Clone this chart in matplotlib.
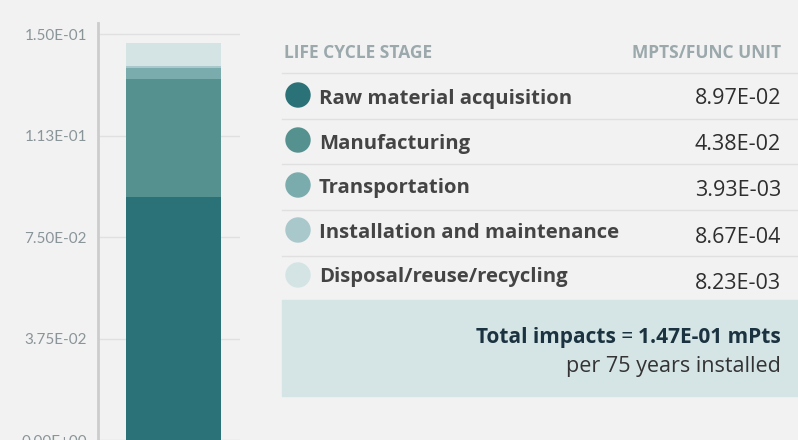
import matplotlib.pyplot as plt
from matplotlib.patches import Circle, Rectangle

# Data
stages = ['Raw material acquisition', 'Manufacturing', 'Transportation',
          'Installation and maintenance', 'Disposal/reuse/recycling']
values = [8.97e-02, 4.38e-02, 3.93e-03, 8.67e-04, 8.23e-03]
value_labels = ['8.97E-02', '4.38E-02', '3.93E-03', '8.67E-04', '8.23E-03']
colors = ['#2a7278', '#54918f', '#7bacad', '#a8c8cb', '#d4e4e5']
yticks = [0, 0.0375, 0.075, 0.1125, 0.15]
ytick_labels = ['0.00E+00', '3.75E-02', '7.50E-02', '1.13E-01', '1.50E-01']
total_label = '1.47E-01 mPts'

bg = '#f2f2f2'
W, H = 798, 440
fig = plt.figure(figsize=(W / 100, H / 100), dpi=100, facecolor=bg)
plt.rcParams['font.family'] = ['Open Sans', 'DejaVu Sans']

# stacked bar
ax = fig.add_axes([98 / W, 0, 142 / W, 417 / H])
ax.set_facecolor(bg)
bottom = 0
for v, c in zip(values, colors):
    ax.bar(0.532, v, width=0.669, bottom=bottom, color=c, zorder=2)
    bottom += v
ax.set_xlim(0, 1)
ax.set_ylim(0, 0.1541)
ax.set_xticks([])
ax.set_yticks(yticks)
ax.set_yticklabels(ytick_labels, fontsize=11, color='#8a9599', family='Lato')
ax.tick_params(axis='y', length=0, pad=8)
ax.grid(axis='y', color='#e0e0e0', lw=1, zorder=0)
for s in ['top', 'right', 'bottom']:
    ax.spines[s].set_visible(False)
ax.spines['left'].set_color('#cccccc')
ax.spines['left'].set_linewidth(2)

# table on the right, pixel coordinates
tx = fig.add_axes([0, 0, 1, 1])
tx.set_xlim(0, W)
tx.set_ylim(H, 0)
tx.axis('off')

tx.text(284, 58, 'LIFE CYCLE STAGE', fontsize=12.5, fontweight='bold', color='#9ba8ac')
tx.text(781, 58, 'MPTS/FUNC UNIT', fontsize=12.5, fontweight='bold', color='#9ba8ac', ha='right')

for i, (name, lab, c) in enumerate(zip(stages, value_labels, colors)):
    y_line = 73 + i * 45.7
    tx.plot([282, W], [y_line, y_line], color='#e0e0e0', lw=1)
    tx.add_patch(Circle((298, 95 + i * 45), 12, color=c))
    tx.text(319, 104 + i * 44.5, name, fontsize=14.6, fontweight='bold', color='#444444')
    tx.text(781, 104 + i * 46.2, lab, fontsize=15.5, color='#2e2e2e', ha='right')

tx.add_patch(Rectangle((282, 300), W - 282, 96, color='#d5e4e5'))
fig.canvas.draw()
r = fig.canvas.get_renderer()
t3 = tx.text(781, 343, total_label, fontsize=15, fontweight='bold', color='#1b3340', ha='right')
x_end = t3.get_window_extent(r).x0
t2 = tx.text(x_end, H - 343, ' = ', fontsize=15, color='#1b3340', ha='right',
             transform=None)
x_end = t2.get_window_extent(r).x0
tx.text(x_end, H - 343, 'Total impacts', fontsize=15, fontweight='bold',
        color='#1b3340', ha='right', transform=None)
tx.text(781, 372, 'per 75 years installed', fontsize=15.5, color='#333333', ha='right')

fig.savefig('out.png', dpi=100, facecolor=bg)
